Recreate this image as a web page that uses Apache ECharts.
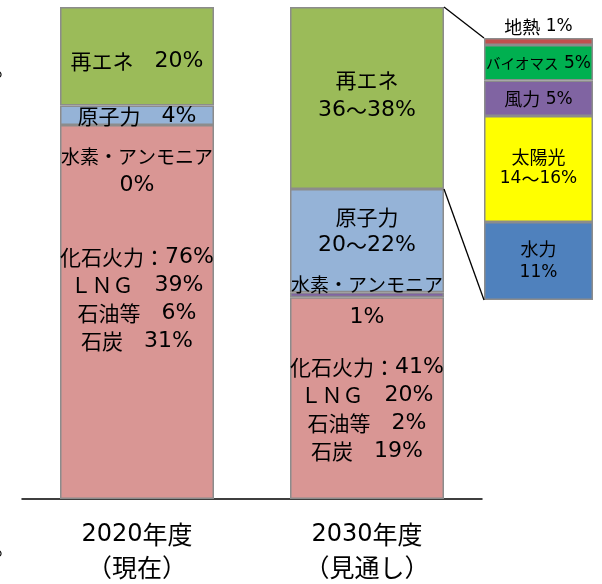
<!DOCTYPE html>
<html>
<head>
<meta charset="utf-8">
<script src="https://cdn.jsdelivr.net/npm/echarts@6/dist/echarts.min.js"></script>
<style>
html,body{margin:0;padding:0;background:#fff;}
#main{width:602px;height:584px;}
</style>
</head>
<body>
<div id="main"></div>
<script>
// ---- data ----
const categories = ['2020年度\n（現在）', '2030年度\n（見通し）'];
const fossil = [76, 41];
const hydrogen = [0, 1];
const nuclear = [4, 21];
const renewable = [20, 37];

const renewableLabels = [['再エネ　20%'], ['再エネ', '36～38%']];
const nuclearLabels = [['原子力　4%'], ['原子力', '20～22%']];
const hydrogenLabels = [['水素・アンモニア', '0%'], ['水素・アンモニア', '1%']];
const fossilLabels = [
  ['化石火力：76%', 'ＬＮＧ　39%', '石油等　6%', '石炭　31%'],
  ['化石火力：41%', 'ＬＮＧ　20%', '石油等　2%', '石炭　19%']
];

const subNames = ['水力', '太陽光', '風力', 'バイオマス', '地熱'];
const subValues = [11, 15, 5, 5, 1];
const subLabels = [['水力', '11%'], ['太陽光', '14～16%'], ['風力 5%'], ['バイオマス 5%'], ['地熱 1%']];

// ---- styles ----
const CJK = '"Noto Sans CJK JP", sans-serif';
const LAT = '"DejaVu Sans", "Noto Sans CJK JP", sans-serif';
const BORDER = '#8c8c8c';
const MAIN_BAR_W = 154;
const SUB_BAR_W = 109;

// rich text helpers: CJK runs and ASCII runs get their own font
function rt(str, key) {
  return str.match(/[\x00-\x7F]+|[^\x00-\x7F]+/g)
    .map(s => '{' + (/[\x00-\x7F]/.test(s[0]) ? 'n' : 'j') + key + '|' + s + '}').join('');
}
function block(arr, key) { return arr.map(s => rt(s, key)).join('\n'); }
function makeRich(specs) {
  const r = {};
  Object.keys(specs).forEach(k => {
    const [cf, lf, lh] = specs[k];
    r['j' + k] = {fontFamily: CJK, fontSize: cf, lineHeight: lh, color: '#000'};
    r['n' + k] = {fontFamily: LAT, fontSize: lf, lineHeight: lh, color: '#000'};
  });
  r.s = {fontSize: 2, lineHeight: 44};
  return r;
}

const mainRich = makeRich({a: [21, 22, 28], b: [21, 22, 30], c: [21, 22, 32], h: [19, 22, 28], k: [19, 22, 32]});
const subRich = makeRich({a: [18, 17, 24], b: [18, 17, 22], c: [18, 17, 20], d: [14.5, 17, 20]});
const axisRich = makeRich({x: [25, 24, 33]});

const chart = echarts.init(document.getElementById('main'), null, {renderer: 'canvas'});

function lbl(extra) {
  return Object.assign({show: true, color: '#000', rich: mainRich}, extra);
}
function hydroBlock(i, key1, key2) {
  return rt(hydrogenLabels[i][0], key1) + '\n' + rt(hydrogenLabels[i][1], key2);
}

const fossilData = fossil.map((v, i) => {
  if (i === 0) {
    // hydrogen share is 0 in 2020, so its text sits inside the fossil block
    return {value: v, label: lbl({position: 'insideTop', distance: 18,
      formatter: hydroBlock(0, 'h', 'a') + '\n{s| }\n' + block(fossilLabels[0], 'a')})};
  }
  return {value: v, label: lbl({position: 'insideTop', distance: 56, formatter: block(fossilLabels[1], 'a')})};
});

const hydrogenData = hydrogen.map((v, i) => {
  if (v === 0) return {value: v, label: {show: false}, itemStyle: {borderWidth: 0}};
  return {value: v, label: lbl({position: 'inside', offset: [0, 6], formatter: hydroBlock(i, 'k', 'c')})};
});

const nuclearData = nuclear.map((v, i) => {
  if (i === 0) return {value: v, label: lbl({position: 'inside', offset: [0, 1], formatter: block(nuclearLabels[0], 'a')})};
  return {value: v, label: lbl({position: 'insideTop', distance: 14, formatter: block(nuclearLabels[1], 'a')})};
});

const renewableData = renewable.map((v, i) => {
  if (i === 0) return {value: v, label: lbl({position: 'insideTop', distance: 40, formatter: block(renewableLabels[0], 'a')})};
  return {value: v, label: lbl({position: 'insideTop', distance: 58, formatter: block(renewableLabels[1], 'b')})};
});

const subColors = ['#4F81BD', '#FFFF00', '#8064A2', '#00B050', '#C0504D'];
const subLabelCfg = [
  {position: 'inside', formatter: block(subLabels[0], 'a')},
  {position: 'inside', offset: [0, -1], formatter: block(subLabels[1], 'b')},
  {position: 'inside', offset: [0, 1], formatter: block(subLabels[2], 'c')},
  {position: 'inside', offset: [0, 1], formatter: block(subLabels[3], 'd')},
  {position: 'top', distance: 1, formatter: block(subLabels[4], 'c')}
];

const mainColors = ['#D99694', '#8064A2', '#95B3D7', '#9BBB59'];
const mainSeriesData = [fossilData, hydrogenData, nuclearData, renewableData];
const mainNames = ['化石火力', '水素・アンモニア', '原子力', '再エネ'];

const series = [];
mainSeriesData.forEach((d, k) => {
  series.push({
    name: mainNames[k], type: 'bar', stack: 'main',
    xAxisIndex: 0, yAxisIndex: 0, barWidth: MAIN_BAR_W, data: d,
    itemStyle: {color: mainColors[k], borderColor: BORDER, borderWidth: 1.5},
    emphasis: {disabled: true}, animation: false
  });
});
subValues.forEach((v, k) => {
  series.push({
    name: subNames[k], type: 'bar', stack: 'sub',
    xAxisIndex: 1, yAxisIndex: 1, barWidth: SUB_BAR_W,
    data: [{value: v, label: Object.assign({show: true, color: '#000', rich: subRich}, subLabelCfg[k])}],
    itemStyle: {color: subColors[k], borderColor: BORDER, borderWidth: 1.5},
    emphasis: {disabled: true}, animation: false
  });
});

const subTotal = subValues.reduce((a, b) => a + b, 0);

chart.setOption({
  animation: false,
  backgroundColor: '#fff',
  grid: [
    {left: 22, right: 120, top: 7, bottom: 85},
    {left: 484, width: SUB_BAR_W, top: 38, height: 262}
  ],
  xAxis: [
    {
      type: 'category', gridIndex: 0, data: categories,
      axisLine: {show: true, lineStyle: {color: '#000', width: 1.5}},
      axisTick: {show: false},
      axisLabel: {margin: 19, rich: axisRich, formatter: v => block(v.split('\n'), 'x')}
    },
    {type: 'category', gridIndex: 1, data: ['内訳'], show: false}
  ],
  yAxis: [
    {type: 'value', gridIndex: 0, min: 0, max: 100, show: false},
    {type: 'value', gridIndex: 1, min: 0, max: subTotal, show: false}
  ],
  series: series
});

// connector lines between the 2030 renewables block and the breakdown bar
const belowRe2030 = fossil[1] + hydrogen[1] + nuclear[1];
const top2030 = chart.convertToPixel({xAxisIndex: 0, yAxisIndex: 0}, [1, belowRe2030 + renewable[1]]);
const bot2030 = chart.convertToPixel({xAxisIndex: 0, yAxisIndex: 0}, [1, belowRe2030]);
const subTop = chart.convertToPixel({xAxisIndex: 1, yAxisIndex: 1}, [0, subTotal]);
const subBot = chart.convertToPixel({xAxisIndex: 1, yAxisIndex: 1}, [0, 0]);
const rx = top2030[0] + MAIN_BAR_W / 2;
const lx = subTop[0] - SUB_BAR_W / 2;

chart.setOption({
  graphic: [
    {type: 'line', shape: {x1: rx, y1: top2030[1], x2: lx, y2: subTop[1]}, style: {stroke: '#000', lineWidth: 1.3}, z: 10},
    {type: 'line', shape: {x1: rx, y1: bot2030[1], x2: lx, y2: subBot[1]}, style: {stroke: '#000', lineWidth: 1.3}, z: 10},
    {type: 'text', left: -6, top: 57, style: {text: '。', font: '22px ' + CJK, fill: '#000'}},
    {type: 'text', left: -6, top: 536, style: {text: '。', font: '22px ' + CJK, fill: '#000'}}
  ]
});
</script>
</body>
</html>
